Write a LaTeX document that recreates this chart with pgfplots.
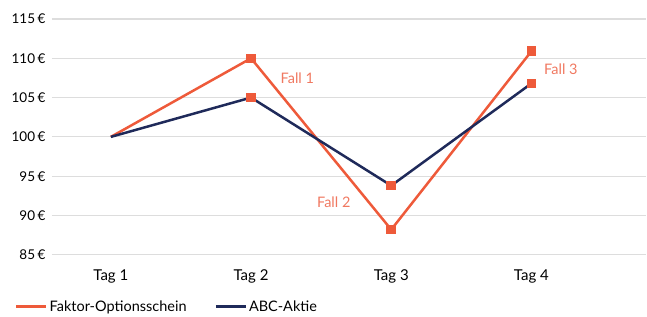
\documentclass[border=0pt]{standalone}
\usepackage{pgfplots}
\pgfplotsset{compat=1.18}
\usepackage{fontspec}
\setmainfont{Lato}
\usetikzlibrary{calc}
\definecolor{orng}{HTML}{EE5A3A}
\definecolor{navy}{HTML}{1F2A5A}
\definecolor{fallc}{HTML}{F07860}
\definecolor{gridc}{HTML}{DDDDDD}
\begin{document}
\begin{tikzpicture}
\begin{axis}[
  scale only axis,
  width=595pt, height=236pt,
  xmin=-0.42, xmax=3.82,
  ymin=85, ymax=115,
  axis line style={draw=none},
  ytick={85,90,...,115},
  yticklabel={\pgfmathprintnumber{\tick}\kern2.5pt€},
  /pgf/number format/assume math mode=true,
  xtick={0,1,2,3},
  xticklabels={Tag 1,Tag 2,Tag 3,Tag 4},
  major tick length=0pt,
  xmajorgrids=false,
  ymajorgrids=true,
  major grid style={draw=gridc, line width=1.2pt},
  yticklabel style={font=\fontsize{13.5}{15}\selectfont, text=black, xshift=-3pt},
  xticklabel style={font=\fontsize{15}{17}\selectfont, text=black, yshift=-11pt},
  clip=false,
  legend style={at={([xshift=-40pt,yshift=-52pt]rel axis cs:0,0)}, anchor=west, draw=none, fill=none,
    legend columns=2, font=\fontsize{14.5}{16}\selectfont, text=black,
    /tikz/every even column/.append style={column sep=26pt}},
  legend cell align=left,
  legend image code/.code={\draw[#1, line width=2.5pt] (0pt,0pt) -- (30pt,0pt);},
]
\addplot[orng, line width=2.5pt, mark=square*, mark size=3.5pt, mark options={fill=orng, draw=orng},
  mark indices={2,3,4}] coordinates {(0,100) (1,110) (2,88.2) (3,110.9)};
\addlegendentry{Faktor-Optionsschein}
\addplot[navy, line width=2.5pt, mark=square*, mark size=3.5pt, mark options={fill=orng, draw=orng},
  mark indices={2,3,4}] coordinates {(0,100) (1,105) (2,93.8) (3,106.8)};
\addlegendentry{ABC-Aktie}
\node[text=fallc, font=\fontsize{14.5}{16}\selectfont] at (axis cs:1.33,107.5) {Fall 1};
\node[text=fallc, font=\fontsize{14.5}{16}\selectfont] at (axis cs:1.59,91.7) {Fall 2};
\node[text=fallc, font=\fontsize{14.5}{16}\selectfont] at (axis cs:3.21,108.6) {Fall 3};
\end{axis}
\useasboundingbox ($(current axis.south west)+(-52pt,-59pt)$) rectangle ($(current axis.north east)+(0,19pt)$);
\end{tikzpicture}
\end{document}
